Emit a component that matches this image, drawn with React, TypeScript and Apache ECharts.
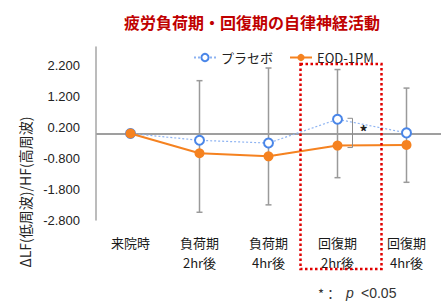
import React, { useEffect, useRef } from "react";
import * as echarts from "echarts";

const categories = ["来院時", "負荷期\n2hr後", "負荷期\n4hr後", "回復期\n2hr後", "回復期\n4hr後"];
const placeboValues = [0, -0.22, -0.31, 0.46, 0.02];
const eodValues = [0, -0.64, -0.74, -0.39, -0.37];
const errTop = [null, 1.71, 2.12, 2.07, 1.47];
const errBottom = [null, -2.55, -2.31, -1.43, -1.58];
const yTicks = [-2.8, -1.8, -0.8, 0.2, 1.2, 2.2];
const sigIndex = 3;

const FONT = "'Noto Sans CJK JP', 'Noto Sans', sans-serif";

export default function App() {
  const ref = useRef<HTMLDivElement>(null);
  useEffect(() => {
    if (!ref.current) return;
    const chart = echarts.init(ref.current, null, { renderer: "svg" });
    const errData = categories
      .map((_, i) => (errTop[i] == null ? null : [i, errTop[i], errBottom[i]]))
      .filter((d) => d !== null);
    chart.setOption({
      animation: false,
      textStyle: { fontFamily: FONT },
      grid: { left: 96, right: 1, top: 47, bottom: 81 },
      legend: {
        left: 188,
        top: 46,
        itemWidth: 22,
        itemHeight: 9,
        itemGap: 16,
        textStyle: { fontSize: 13, color: "#222", fontFamily: FONT },
        data: ["プラセボ", "EOD-1PM"],
      },
      xAxis: {
        type: "category",
        data: categories,
        axisLine: { show: false },
        axisTick: { show: false },
        axisLabel: { margin: 12, fontSize: 13, lineHeight: 20, color: "#1a1a1a", fontFamily: FONT },
      },
      yAxis: {
        type: "value",
        min: -2.8,
        max: 2.8,
        interval: 1,
        splitLine: { show: false },
        axisTick: { show: false },
        axisLine: { show: true, lineStyle: { color: "#a6a6a6", width: 1.5 } },
        axisLabel: {
          margin: 16,
          fontSize: 13,
          color: "#222",
          fontFamily: "Liberation Sans, Arial, sans-serif",
          formatter: (v: number) => {
            const m = yTicks.find((t) => Math.abs(t - v) < 1e-6);
            return m === undefined ? "" : m.toFixed(3);
          },
        },
      },
      series: [
        {
          type: "custom",
          name: "err",
          z: 1,
          silent: true,
          data: errData,
          renderItem: (params: any, api: any) => {
            const top = api.coord([api.value(0), api.value(1)]);
            const bot = api.coord([api.value(0), api.value(2)]);
            const c = 3;
            const style = { stroke: "#9a9a9a", lineWidth: 1.5 };
            return {
              type: "group",
              children: [
                { type: "line", shape: { x1: top[0], y1: top[1], x2: bot[0], y2: bot[1] }, style },
                { type: "line", shape: { x1: top[0] - c, y1: top[1], x2: top[0] + c, y2: top[1] }, style },
                { type: "line", shape: { x1: bot[0] - c, y1: bot[1], x2: bot[0] + c, y2: bot[1] }, style },
              ],
            };
          },
        },
        {
          type: "line",
          name: "プラセボ",
          data: placeboValues,
          z: 3,
          symbol: "circle",
          symbolSize: 9,
          lineStyle: { color: "#8db3f2", width: 1.2, type: [2, 2] },
          itemStyle: { color: "#ffffff", borderColor: "#4a86e8", borderWidth: 2 },
          markLine: {
            silent: true,
            symbol: "none",
            z: 0,
            label: { show: false },
            lineStyle: { color: "#7f7f7f", width: 1.5, type: "solid" },
            data: [{ yAxis: 0 }],
          },
        },
        {
          type: "line",
          name: "EOD-1PM",
          data: eodValues,
          z: 4,
          symbol: "circle",
          symbolSize: 10,
          lineStyle: { color: "#f58220", width: 2 },
          itemStyle: { color: "#f58220" },
        },
      ],
    });

    const p = chart.convertToPixel({ xAxisIndex: 0, yAxisIndex: 0 }, [sigIndex, placeboValues[sigIndex]]) as number[];
    const e = chart.convertToPixel({ xAxisIndex: 0, yAxisIndex: 0 }, [sigIndex, eodValues[sigIndex]]) as number[];
    const x0 = p[0];
    const bx1 = x0 + 10;
    const bx2 = x0 + 15;
    chart.setOption({
      graphic: [
        {
          type: "text",
          x: 252,
          y: 22,
          style: {
            text: "疲労負荷期・回復期の自律神経活動",
            fill: "#c00000",
            font: `bold 16px ${FONT}`,
            textAlign: "center",
            textVerticalAlign: "middle",
          },
        },
        {
          type: "text",
          x: 25,
          y: 192,
          rotation: Math.PI / 2,
          style: {
            text: "ΔLF(低周波)/HF(高周波)",
            fill: "#222",
            font: `14px ${FONT}`,
            textAlign: "center",
            textVerticalAlign: "middle",
          },
        },
        {
          type: "polyline",
          z: 10,
          shape: { points: [[bx1, p[1] - 1], [bx2, p[1] - 1], [bx2, e[1] + 2], [bx1, e[1] + 2]] },
          style: { stroke: "#8c8c8c", lineWidth: 1, fill: null },
        },
        {
          type: "text",
          x: x0 + 26,
          y: (p[1] + e[1]) / 2 - 1,
          z: 10,
          style: {
            text: "*",
            fill: "#222",
            font: `bold 16px ${FONT}`,
            textAlign: "center",
            textVerticalAlign: "middle",
          },
        },
        {
          type: "rect",
          z: 10,
          shape: { x: x0 - 37, y: 64, width: 81, height: 205 },
          style: { fill: null, stroke: "#e00000", lineWidth: 2.5, lineDash: [2.5, 2.5] },
        },
        {
          type: "text",
          x: 318,
          y: 293,
          style: {
            text: "*：  ",
            fill: "#333",
            font: `13px ${FONT}`,
            textAlign: "left",
            textVerticalAlign: "middle",
          },
        },
        {
          type: "text",
          x: 346,
          y: 293,
          style: {
            text: "p",
            fill: "#333",
            font: `italic 14px 'Liberation Sans', sans-serif`,
            textAlign: "left",
            textVerticalAlign: "middle",
          },
        },
        {
          type: "text",
          x: 361,
          y: 293,
          style: {
            text: "<0.05",
            fill: "#333",
            font: `14px 'Liberation Sans', sans-serif`,
            textAlign: "left",
            textVerticalAlign: "middle",
          },
        },
      ],
    });
    return () => chart.dispose();
  }, []);
  return <div ref={ref} style={{ width: 442, height: 301, position: "absolute", left: 0, top: 0 }} />;
}
